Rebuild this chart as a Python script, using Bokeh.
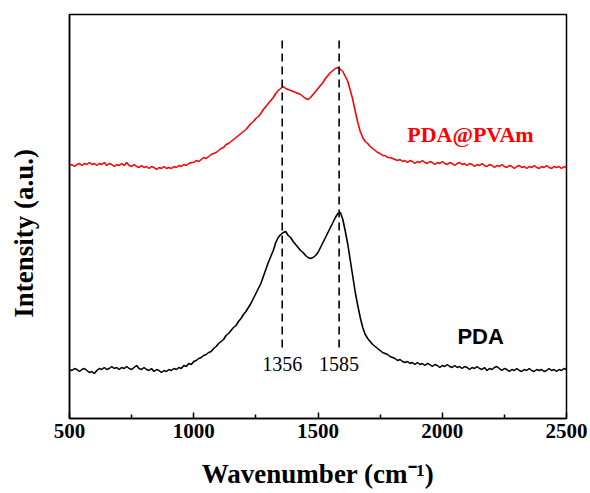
import math
from bokeh.plotting import figure
from bokeh.models import Range1d, FixedTicker
from bokeh.core.properties import value
from bokeh.embed import file_html
from bokeh.resources import INLINE

# ---------------- data ----------------
wavenumber = list(range(500, 2501, 10))

pda = [
    # 500 - 950
    49, 48, 50, 49, 47, 49, 50, 48, 46, 47, 45, 48, 50, 49, 51, 49, 50, 52, 50, 51,
    49, 51, 50, 52, 50, 49, 51, 53, 50, 49, 51, 49, 48, 50, 47, 49, 48, 46, 48, 47,
    49, 48, 50, 49, 51, 50,
    # 960 - 1800
    53, 52, 55, 54, 57, 58, 60, 61, 63, 64, 66, 67, 70, 72, 75, 77, 79, 83, 85, 88,
    91, 93, 97, 100, 104, 107, 111, 115, 120, 125, 130, 135, 142, 149, 156, 162, 168, 176, 181, 184,
    186, 187, 183, 181, 177, 174, 171, 168, 166, 163, 161, 160, 161, 163, 166, 171, 176, 181, 186, 191,
    196, 201, 205, 206, 199, 187, 174, 158, 142, 126, 113, 101, 91, 84, 80, 77, 74, 72, 70, 68,
    66, 65, 64, 62, 61,
    # 1810 - 2500
    60, 58, 59, 57, 56, 57, 55, 56, 54, 56, 54, 55, 53, 55, 54, 52, 54, 53, 51, 53,
    52, 54, 52, 51, 53, 51, 52, 50, 52, 51, 49, 51, 50, 52, 50, 49, 51, 48, 50, 49,
    51, 52, 50, 48, 50, 49, 47, 49, 48, 50, 48, 47, 49, 48, 50, 48, 47, 49, 48, 49,
    47, 48, 50, 48, 49, 47, 49, 48, 50, 49,
]

pda_pvam = [
    # 500 - 960
    253, 254, 252, 254, 255, 253, 255, 254, 256, 254, 255, 253, 255, 254, 256, 253, 255, 254, 252, 254,
    253, 255, 253, 256, 253, 252, 254, 252, 251, 253, 251, 252, 250, 252, 251, 249, 251, 250, 252, 250,
    251, 250, 252, 251, 253, 252, 254,
    # 970 - 1800
    253, 255, 256, 256, 258, 257, 259, 261, 260, 262, 264, 265, 266, 268, 270, 271, 274, 275, 277, 279,
    281, 283, 285, 287, 289, 292, 295, 297, 300, 302, 305, 309, 312, 315, 318, 321, 325, 328, 330, 332,
    330, 329, 328, 327, 326, 325, 324, 322, 320, 319, 321, 324, 327, 330, 333, 336, 340, 343, 346, 348,
    350, 351, 349, 347, 342, 337, 328, 319, 307, 296, 287, 281, 277, 275, 272, 270, 268, 266, 265, 263,
    263, 261, 261, 260,
    # 1810 - 2500
    259, 258, 259, 257, 258, 256, 258, 257, 255, 257, 256, 258, 256, 255, 257, 256, 254, 256, 255, 257,
    255, 254, 256, 255, 253, 255, 256, 254, 255, 253, 255, 254, 252, 254, 253, 255, 253, 252, 254, 253,
    251, 253, 252, 254, 252, 251, 253, 252, 250, 252, 253, 251, 252, 250, 252, 251, 253, 251, 250, 252,
    251, 253, 251, 250, 252, 251, 252, 250, 252, 251,
]

peak_positions = [1356, 1585]
peak_labels = ["1356", "1585"]
series_names = ["PDA@PVAm", "PDA"]
x_ticks = [500, 1000, 1500, 2000, 2500]
x_minor_ticks = [750, 1250, 1750, 2250]

assert len(pda) == len(wavenumber), len(pda)
assert len(pda_pvam) == len(wavenumber), len(pda_pvam)

SERIF = "Liberation Serif"
SANS = "Liberation Sans"

p = figure(width=590, height=493, output_backend="svg", toolbar_location=None,
           x_range=Range1d(500, 2500), y_range=Range1d(0, 404),
           min_border_left=69, min_border_right=24, min_border_top=14, min_border_bottom=75)
p.background_fill_color = "white"
p.border_fill_color = "white"
p.grid.visible = False
p.outline_line_color = "black"
p.outline_line_width = 1.5

# x axis
xa = p.xaxis[0]
xa.ticker = FixedTicker(ticks=x_ticks, minor_ticks=x_minor_ticks)
xa.major_tick_in = 6
xa.major_tick_out = 0
xa.minor_tick_in = 4
xa.minor_tick_out = 0
xa.major_tick_line_width = 1.5
xa.minor_tick_line_width = 1.5
xa.axis_line_width = 1.5
xa.major_label_text_font = SERIF
xa.major_label_text_font_style = "bold"
xa.major_label_text_font_size = "21px"
xa.major_label_text_color = "black"
xa.major_label_standoff = 5
xa.axis_label = "Wavenumber (cm\u207b\u00b9)"
xa.axis_label_text_font = SERIF
xa.axis_label_text_font_style = "bold"
xa.axis_label_text_font_size = "27px"
xa.axis_label_text_color = "black"
xa.axis_label_standoff = 18

# y axis: no ticks, only the label (shifted down a little, as in the reference)
ya = p.yaxis[0]
ya.ticker = FixedTicker(ticks=[])
ya.major_tick_in = 0
ya.major_tick_out = 0
ya.minor_tick_in = 0
ya.minor_tick_out = 0
ya.axis_line_width = 1.5
ya.major_label_text_alpha = 0
ya.axis_label = "Intensity (a.u.)" + "\u00a0" * 5
ya.axis_label_text_font = SERIF
ya.axis_label_text_font_style = "bold"
ya.axis_label_text_font_size = "27px"
ya.axis_label_text_color = "black"
ya.axis_label_standoff = 31

# curves
p.line(wavenumber, pda_pvam, line_color="#ff0000", line_width=1.6)
p.line(wavenumber, pda, line_color="black", line_width=1.6)

# dashed peak markers
p.segment(x0=peak_positions, y0=[71, 71], x1=peak_positions, y1=[381, 381],
          line_color="black", line_width=1.6, line_dash="8 5")

p.text(x=peak_positions, y=[55, 55], text=peak_labels,
       text_font=value(SERIF), text_font_size="20px", text_color="black",
       text_align="center", text_baseline="middle")

p.text(x=[1859], y=[284], text=[series_names[0]],
       text_font=value(SERIF), text_font_style="bold", text_font_size="22px",
       text_color="#ff0000", text_align="left", text_baseline="middle")
p.text(x=[2061], y=[82], text=[series_names[1]],
       text_font=value(SANS), text_font_style="bold", text_font_size="22px",
       text_color="black", text_align="left", text_baseline="middle")

open("out.html", "w").write(file_html(p, INLINE))
